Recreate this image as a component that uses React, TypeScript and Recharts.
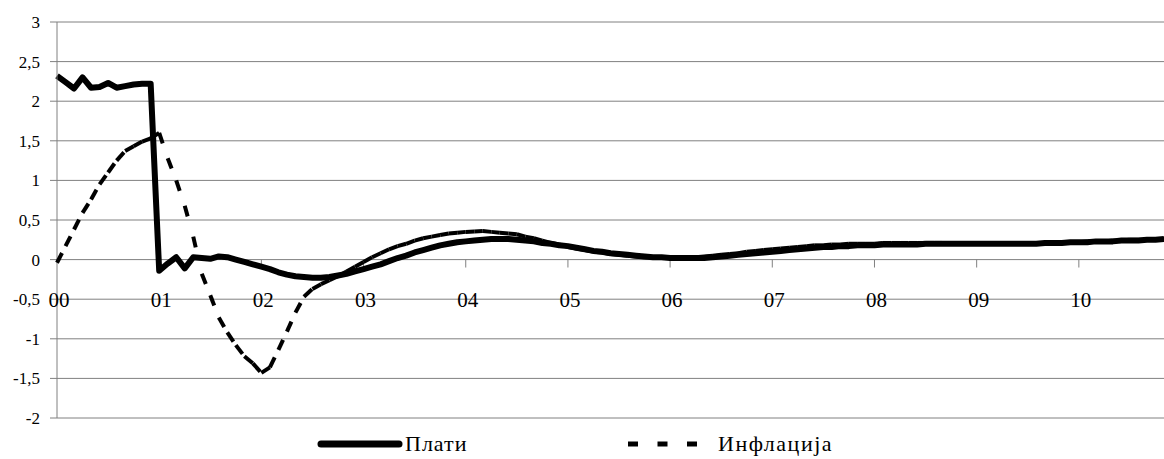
import React from 'react'
import { LineChart, Line, XAxis, YAxis, CartesianGrid, ReferenceLine, ReferenceDot } from 'recharts'

// monthly values, Jan 2000 .. Nov 2010
const yearLabels = ['00', '01', '02', '03', '04', '05', '06', '07', '08', '09', '10']
const yTicks = [-2, -1.5, -1, -0.5, 0, 0.5, 1, 1.5, 2, 2.5, 3]

const wages = [
  2.32, 2.24, 2.16, 2.3, 2.17, 2.18, 2.23, 2.17, 2.19, 2.21, 2.22, 2.22,
  -0.14, -0.05, 0.03, -0.11, 0.03, 0.02, 0.01, 0.04, 0.03, 0.0, -0.03, -0.06,
  -0.09, -0.12, -0.16, -0.19, -0.21, -0.22, -0.23, -0.23, -0.22, -0.2, -0.18, -0.15,
  -0.12, -0.09, -0.06, -0.02, 0.02, 0.05, 0.09, 0.12, 0.15, 0.18, 0.2, 0.22,
  0.23, 0.24, 0.25, 0.26, 0.26, 0.26, 0.25, 0.24, 0.23, 0.21, 0.2, 0.18,
  0.17, 0.15, 0.13, 0.11, 0.1, 0.08, 0.07, 0.06, 0.05, 0.04, 0.03, 0.03,
  0.02, 0.02, 0.02, 0.02, 0.02, 0.03, 0.04, 0.05, 0.06, 0.07, 0.08, 0.09,
  0.1, 0.11, 0.12, 0.13, 0.14, 0.15, 0.16, 0.16, 0.17, 0.17, 0.18, 0.18,
  0.18, 0.19, 0.19, 0.19, 0.19, 0.19, 0.2, 0.2, 0.2, 0.2, 0.2, 0.2,
  0.2, 0.2, 0.2, 0.2, 0.2, 0.2, 0.2, 0.2, 0.21, 0.21, 0.21, 0.22,
  0.22, 0.22, 0.23, 0.23, 0.23, 0.24, 0.24, 0.24, 0.25, 0.25, 0.26,
]

const inflation = [
  -0.04, 0.17, 0.38, 0.59, 0.76, 0.95, 1.1, 1.25, 1.37, 1.43, 1.49, 1.53,
  1.6, 1.28, 1.0, 0.68, 0.29, -0.18, -0.45, -0.73, -0.92, -1.08, -1.22, -1.31,
  -1.43, -1.36, -1.14, -0.91, -0.67, -0.47, -0.37, -0.31, -0.26, -0.21, -0.15, -0.09,
  -0.03, 0.03, 0.08, 0.13, 0.17, 0.2, 0.24, 0.27, 0.29, 0.31, 0.33, 0.34,
  0.35, 0.355, 0.36, 0.35, 0.34, 0.33, 0.32, 0.29, 0.27, 0.24, 0.21, 0.19,
  0.16, 0.14, 0.12, 0.1, 0.09, 0.07, 0.06, 0.05, 0.04, 0.03, 0.03, 0.02,
  0.02, 0.02, 0.03, 0.03, 0.04, 0.05, 0.06, 0.07, 0.08, 0.1, 0.11, 0.12,
  0.13, 0.14, 0.15, 0.16, 0.17, 0.18, 0.18, 0.19, 0.19, 0.2, 0.2, 0.2,
  0.2, 0.21, 0.21, 0.21, 0.21, 0.21, 0.21, 0.21, 0.21, 0.2, 0.2, 0.2,
  0.2, 0.2, 0.2, 0.2, 0.2, 0.2, 0.2, 0.2, 0.21, 0.21, 0.21, 0.22,
  0.22, 0.23, 0.23, 0.23, 0.24, 0.24, 0.25, 0.25, 0.25, 0.26, 0.26,
]

const data = wages.map((w, i) => ({ m: i, wages: w, inflation: inflation[i] }))

const serif = { fontFamily: "'Liberation Serif', 'Times New Roman', serif" }
const GRID = '#808080'

// the dash pattern starts over on every segment, like the old Excel export
const segCache: { x: number; y: number }[] = []
const InflationSegment = (props: any) => {
  const { cx, cy, index, points } = props
  segCache[index] = { x: cx, y: cy }
  const prev = points ? points[index - 1] : segCache[index - 1]
  if (index === 0 || !prev) return <g key={`s-${index}`} />
  return (
    <line
      key={`s-${index}`}
      x1={prev.x}
      y1={prev.y}
      x2={cx}
      y2={cy}
      stroke="#000"
      strokeWidth={4}
      strokeDasharray="11 400"
    />
  )
}

const YTick = (props: any) => {
  const { x, y, payload } = props
  return (
    <text x={x} y={y} dy="0.35em" textAnchor="end" fontSize={17} fill="#000" style={serif}>
      {String(payload.value).replace('.', ',')}
    </text>
  )
}

const YearLabel = (props: any) => {
  const { viewBox, text } = props
  return (
    <text x={viewBox.x + 2} y={viewBox.y} dy="0.35em" textAnchor="middle" fontSize={21} fill="#000" style={serif}>
      {text}
    </text>
  )
}

const ChartLegend = () => (
  <svg width={1164} height={40} style={{ position: 'absolute', left: 0, top: 420 }}>
    <line x1={321} y1={24} x2={399} y2={24} stroke="#000" strokeWidth={7} strokeLinecap="round" />
    <text x={405} y={31} fontSize={22} fill="#000" style={{ ...serif, letterSpacing: 1 }}>
      Плати
    </text>
    <line x1={628} y1={24} x2={698} y2={24} stroke="#000" strokeWidth={5} strokeDasharray="10 19.5" />
    <text x={718} y={31} fontSize={22} fill="#000" style={{ ...serif, letterSpacing: 1.5 }}>
      Инфлација
    </text>
  </svg>
)

export default function App() {
  return (
    <div style={{ position: 'absolute', left: 0, top: 0, width: 1164, height: 459, background: '#fff', ...serif }}>
      <LineChart width={1164} height={459} data={data} margin={{ top: 22, right: 0, bottom: 41, left: 0 }}>
        <CartesianGrid vertical={false} stroke={GRID} />
        <XAxis dataKey="m" type="number" domain={[0, 130]} hide />
        <YAxis
          width={57}
          domain={[-2, 3]}
          ticks={yTicks}
          interval={0}
          tickSize={7}
          tickMargin={10}
          stroke={GRID}
          tick={<YTick />}
        />
        {yearLabels.slice(1).map((lab, k) => (
          <ReferenceLine
            key={`t-${lab}`}
            segment={[
              { x: (k + 1) * 12, y: 0 },
              { x: (k + 1) * 12, y: -0.1 },
            ]}
            stroke={GRID}
          />
        ))}
        {yearLabels.map((lab, k) => (
          <ReferenceDot
            key={`l-${lab}`}
            x={k * 12}
            y={-0.5}
            r={0}
            fill="none"
            stroke="none"
            label={(p: any) => <YearLabel {...p} text={lab} />}
          />
        ))}
        <Line
          type="linear"
          dataKey="wages"
          stroke="#000"
          strokeWidth={6}
          strokeLinejoin="round"
          dot={false}
          activeDot={false}
          isAnimationActive={false}
        />
        <Line
          type="linear"
          dataKey="inflation"
          stroke="none"
          dot={InflationSegment}
          activeDot={false}
          isAnimationActive={false}
        />
      </LineChart>
      <ChartLegend />
    </div>
  )
}
